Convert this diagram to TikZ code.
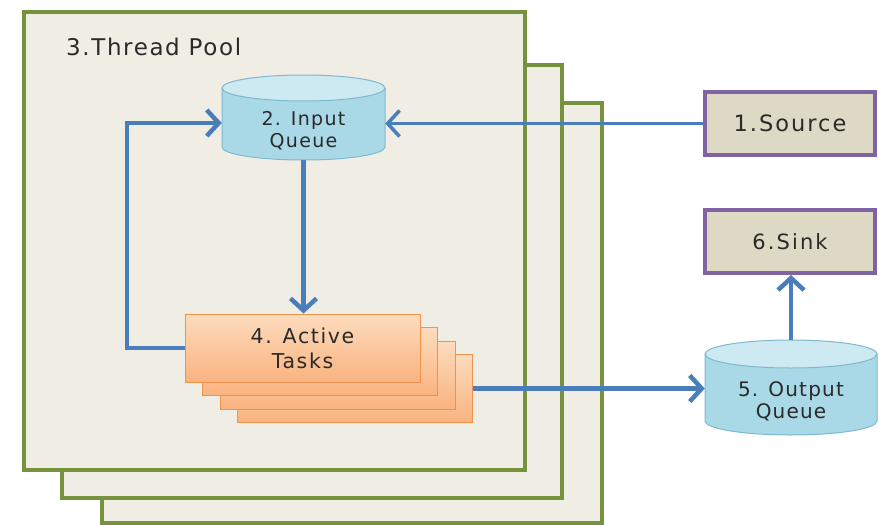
\documentclass[tikz,border=0pt]{standalone}
\usepackage{fontspec}
\setmainfont{DejaVu Sans}[LetterSpace=8]
\usetikzlibrary{arrows.meta}

\definecolor{poolgreen}{HTML}{76923C}
\definecolor{poolfill}{HTML}{F0EDE4}
\definecolor{extpurple}{HTML}{8064A2}
\definecolor{extfill}{HTML}{DDD9C4}
\definecolor{qedge}{HTML}{7FB9CE}
\definecolor{qbody}{HTML}{A9D8E7}
\definecolor{qend}{HTML}{CDE9F2}
\definecolor{taskedge}{HTML}{F0924A}
\definecolor{tasktop}{HTML}{FDDCBE}
\definecolor{taskbot}{HTML}{F9B37F}
\definecolor{flowblue}{HTML}{4A7EBB}
\definecolor{inktext}{HTML}{2A2A2A}

% drum outline: centre x, top y, bottom y, x radius, y radius
\newcommand{\drum}[5]{%
  \path[fill=qbody, draw=qedge, line width=1pt] ({#1-#4},{#2+#5}) -- ({#1-#4},{#3-#5})
    arc[start angle=180, end angle=360, x radius=#4pt, y radius=#5pt] -- ({#1+#4},{#2+#5});
  \path[fill=qend, draw=qedge, line width=1pt] (#1,{#2+#5}) ellipse[x radius=#4pt, y radius=#5pt];
}

\begin{document}
\begin{tikzpicture}[x=1pt, y=-1pt,
    pool/.style={draw=poolgreen, fill=poolfill, line width=4pt},
    ext/.style={draw=extpurple, fill=extfill, line width=4pt, minimum width=170pt,
      minimum height=63pt, inner sep=0pt, text=inktext},
    queue/.style={inner sep=0pt, align=center, text=inktext},
    task/.style={draw=taskedge, line width=1pt, top color=tasktop, bottom color=taskbot,
      minimum width=235pt, minimum height=68pt, inner sep=0pt, align=center,
      text=inktext, font=\fontsize{20.5}{25}\selectfont},
    flow/.style={draw=flowblue, line width=4.5pt, -{Straight Barb[length=12pt, width=26pt]}},
]
\useasboundingbox (0,0) rectangle (879,525);

% thread pool, three layers
\draw[pool] (102,103) rectangle (602,523);
\draw[pool] (62,65) rectangle (562,498);
\draw[pool] (24,12) rectangle (525,470);
\node[anchor=base west, inner sep=0pt, text=inktext,
  font=\fontsize{23}{26}\selectfont\addfontfeature{LetterSpace=7}]
  (poollabel) at (66,55) {3.Thread Pool};

\drum{303.5}{75}{160}{81.5}{13}
\node[queue, minimum width=163pt, minimum height=59pt,
  font=\fontsize{19}{22.5}\selectfont\addfontfeature{LetterSpace=7}] (inq) at (303.5,130.5)
  {2. Input\\Queue};

% stack of active tasks
\foreach \i in {3,2,1}
  \node[task] (task\i) at ({302.5+17.5*\i},{348+13.5*\i}) {};
\node[task] (tasks) at (302.5,348) {4. Active\\Tasks};

\node[ext, font=\fontsize{22.5}{25}\selectfont\addfontfeature{LetterSpace=9}]
  (source) at (790,123.5) {1.Source};
\node[ext, font=\fontsize{21}{25}\selectfont\addfontfeature{LetterSpace=10}]
  (sink) at (790,241.5) {6.Sink};

\drum{791}{340}{435}{86}{14}
\node[queue, minimum width=172pt, minimum height=67pt,
  font=\fontsize{20}{22}\selectfont\addfontfeature{LetterSpace=6}] (outq) at (791,401.5)
  {5. Output\\Queue};

\coordinate (loop) at (127,123);

\draw[flow, line width=3.5pt] (source.west) -- (source.west -| inq.east);
\draw[flow] (inq.south) -- (inq.south |- tasks.north);
\draw[flow] (tasks.west) -| (loop) -- (loop -| inq.west);
\draw[flow] (task3.east) -- (task3.east -| outq.west);
\draw[flow] ([yshift=28pt]outq.north) -- (outq.north |- sink.south);

\end{tikzpicture}
\end{document}
